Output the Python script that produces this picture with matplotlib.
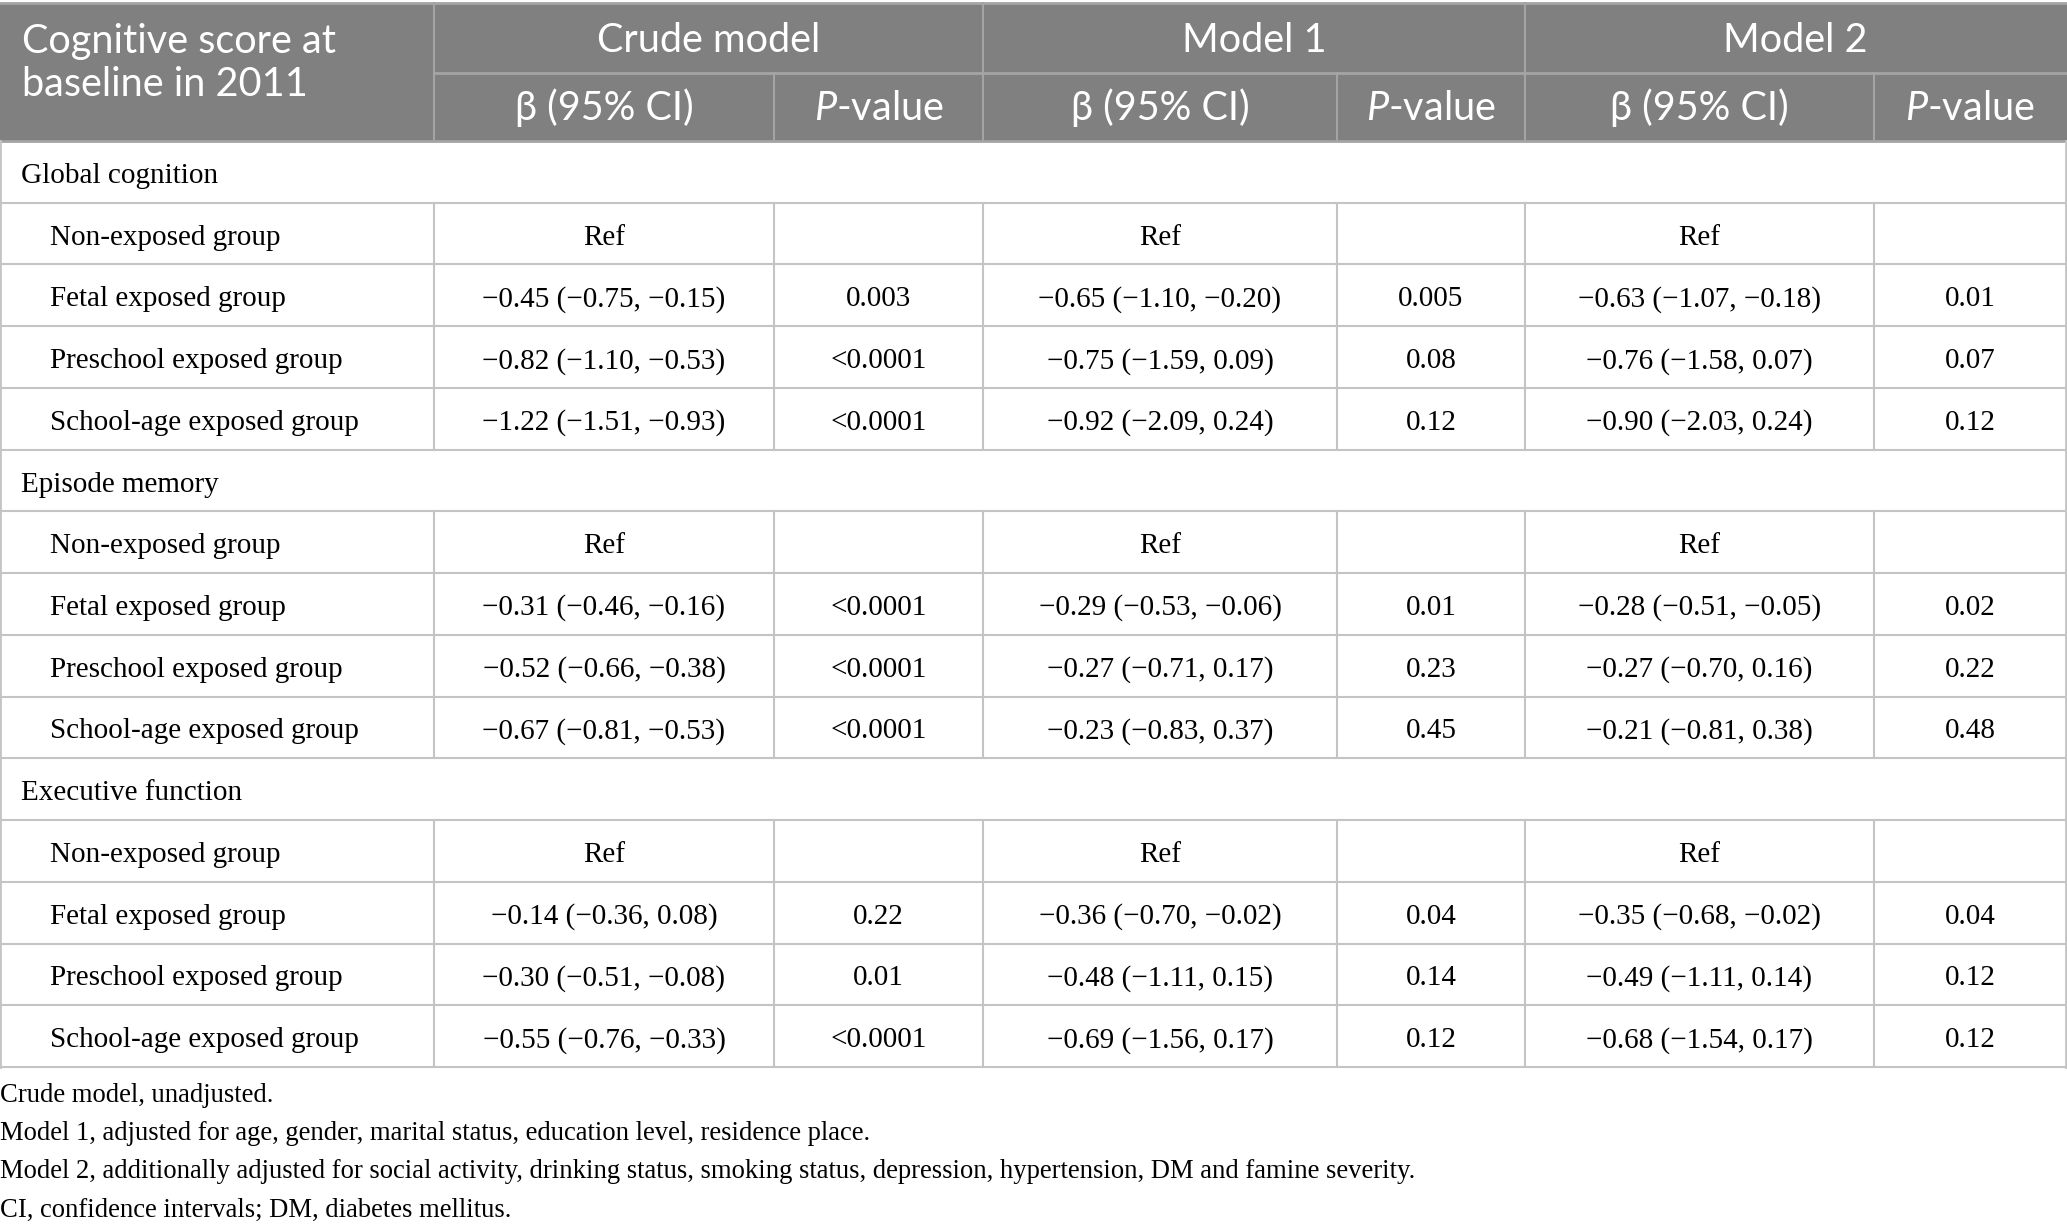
import matplotlib
matplotlib.use("Agg")
import matplotlib.pyplot as plt

# ---- table content ----
sections = ["Global cognition", "Episode memory", "Executive function"]
groups = ["Non-exposed group", "Fetal exposed group",
          "Preschool exposed group", "School-age exposed group"]
models = ["Crude model", "Model 1", "Model 2"]

# beta, lower, upper for fetal / preschool / school-age (non-exposed = Ref)
crude_est = [[-0.45, -0.82, -1.22], [-0.31, -0.52, -0.67], [-0.14, -0.30, -0.55]]
crude_lo = [[-0.75, -1.10, -1.51], [-0.46, -0.66, -0.81], [-0.36, -0.51, -0.76]]
crude_hi = [[-0.15, -0.53, -0.93], [-0.16, -0.38, -0.53], [0.08, -0.08, -0.33]]
crude_p = [["0.003", "<0.0001", "<0.0001"], ["<0.0001", "<0.0001", "<0.0001"],
           ["0.22", "0.01", "<0.0001"]]

m1_est = [[-0.65, -0.75, -0.92], [-0.29, -0.27, -0.23], [-0.36, -0.48, -0.69]]
m1_lo = [[-1.10, -1.59, -2.09], [-0.53, -0.71, -0.83], [-0.70, -1.11, -1.56]]
m1_hi = [[-0.20, 0.09, 0.24], [-0.06, 0.17, 0.37], [-0.02, 0.15, 0.17]]
m1_p = [["0.005", "0.08", "0.12"], ["0.01", "0.23", "0.45"], ["0.04", "0.14", "0.12"]]

m2_est = [[-0.63, -0.76, -0.90], [-0.28, -0.27, -0.21], [-0.35, -0.49, -0.68]]
m2_lo = [[-1.07, -1.58, -2.03], [-0.51, -0.70, -0.81], [-0.68, -1.11, -1.54]]
m2_hi = [[-0.18, 0.07, 0.24], [-0.05, 0.16, 0.38], [-0.02, 0.14, 0.17]]
m2_p = [["0.01", "0.07", "0.12"], ["0.02", "0.22", "0.48"], ["0.04", "0.12", "0.12"]]

footnotes = [
    "Crude model, unadjusted.",
    "Model 1, adjusted for age, gender, marital status, education level, residence place.",
    "Model 2, additionally adjusted for social activity, drinking status, smoking status, "
    "depression, hypertension, DM and famine severity.",
    "CI, confidence intervals; DM, diabetes mellitus.",
]


def num(v):
    s = f"{v:.2f}"
    return s.replace("-", "\u2212")


def ci(e, lo, hi):
    return f"{num(e)} ({num(lo)}, {num(hi)})"


matplotlib.rcParams["mathtext.fontset"] = "custom"
matplotlib.rcParams["mathtext.it"] = "Lato:italic"

# ---- layout (pixel coordinates) ----
W, H = 2067, 1232
fig = plt.figure(figsize=(W / 100, H / 100), dpi=100)
ax = fig.add_axes([0, 0, 1, 1])
ax.set_xlim(0, W)
ax.set_ylim(H, 0)
ax.axis("off")

cols = [0, 434, 774, 983, 1337, 1525, 1874, 2066]
h_top, h_mid, h_bot = 3, 73, 141
row_h = (1067 - h_bot) / 15

HEAD_BG = "#7f807f"
HEAD_LINE = "#a3a4a3"
GRID = "#c4c4c4"
SERIF = "Liberation Serif"
SANS = "Lato"
fs_head = 28.5
fs_body = 21
dy = 4  # small downward nudge for body text

# header background
ax.add_patch(plt.Rectangle((0, h_top), W, h_bot - h_top, color=HEAD_BG, lw=0))
ax.plot([0, W], [h_top, h_top], color=HEAD_LINE, lw=2)
ax.plot([cols[1], W], [h_mid, h_mid], color=HEAD_LINE, lw=2)
for i, x in enumerate(cols[1:-1], start=1):
    y0 = h_top if i % 2 == 1 else h_mid
    ax.plot([x, x], [y0, h_bot], color=HEAD_LINE, lw=1.5)

ax.text(22, 42, "Cognitive score at", fontsize=fs_head, family=SANS,
        color="white", va="center", ha="left")
ax.text(22, 84, "baseline in 2011", fontsize=fs_head, family=SANS,
        color="white", va="center", ha="left")
for k, m in enumerate(models):
    xc = (cols[1 + 2 * k] + cols[3 + 2 * k]) / 2
    ax.text(xc, 41, m, fontsize=fs_head, family=SANS, color="white",
            va="center", ha="center")
    xb = (cols[1 + 2 * k] + cols[2 + 2 * k]) / 2
    xp = (cols[2 + 2 * k] + cols[3 + 2 * k]) / 2
    ax.text(xb, 108, "\u03b2 (95% CI)", fontsize=fs_head, family=SANS,
            color="white", va="center", ha="center")
    ax.text(xp, 108, "$\\mathit{P}$-value", fontsize=fs_head, family=SANS,
            color="white", va="center", ha="center")

# body
ax.plot([0, W], [h_bot, h_bot], color=HEAD_LINE, lw=2)
model_data = [(crude_est, crude_lo, crude_hi, crude_p),
              (m1_est, m1_lo, m1_hi, m1_p),
              (m2_est, m2_lo, m2_hi, m2_p)]

r = 0
for s, sec in enumerate(sections):
    y0 = h_bot + r * row_h
    ax.text(21, y0 + row_h / 2 + dy, sec, fontsize=fs_body, family=SERIF,
            va="center", ha="left")
    ax.plot([0, W], [y0 + row_h, y0 + row_h], color=GRID, lw=1.5)
    r += 1
    for g, grp in enumerate(groups):
        y0 = h_bot + r * row_h
        yc = y0 + row_h / 2 + dy
        ax.text(50, yc, grp, fontsize=fs_body, family=SERIF, va="center", ha="left")
        for k, (est, lo, hi, p) in enumerate(model_data):
            xb = (cols[1 + 2 * k] + cols[2 + 2 * k]) / 2
            xp = (cols[2 + 2 * k] + cols[3 + 2 * k]) / 2
            if g == 0:
                ax.text(xb, yc, "Ref", fontsize=fs_body, family=SERIF,
                        va="center", ha="center")
            else:
                ax.text(xb, yc, ci(est[s][g - 1], lo[s][g - 1], hi[s][g - 1]),
                        fontsize=fs_body, family=SERIF, va="center", ha="center")
                ax.text(xp, yc, p[s][g - 1], fontsize=fs_body, family=SERIF,
                        va="center", ha="center")
        for x in cols[1:-1]:
            ax.plot([x, x], [y0, y0 + row_h], color=GRID, lw=1.5)
        ax.plot([0, W], [y0 + row_h, y0 + row_h], color=GRID, lw=1.5)
        r += 1

y_end = h_bot + r * row_h
ax.plot([0, 0], [h_bot, y_end], color=GRID, lw=2)
ax.plot([W - 1, W - 1], [h_bot, y_end], color=GRID, lw=2)

for i, note in enumerate(footnotes):
    ax.text(0, 1096 + i * 38, note, fontsize=19.2, family=SERIF,
            va="center", ha="left")

fig.savefig("out.png", dpi=100)
